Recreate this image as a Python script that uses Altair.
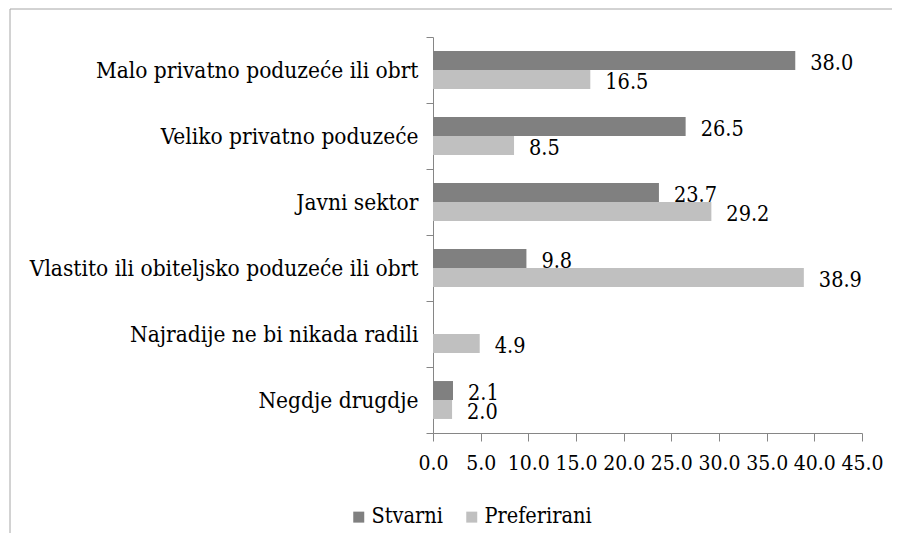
import altair as alt
import pandas as pd

categories = [
    "Malo privatno poduzeće ili obrt",
    "Veliko privatno poduzeće",
    "Javni sektor",
    "Vlastito ili obiteljsko poduzeće ili obrt",
    "Najradije ne bi nikada radili",
    "Negdje drugdje",
]
stvarni = [38.0, 26.5, 23.7, 9.8, None, 2.1]
preferirani = [16.5, 8.5, 29.2, 38.9, 4.9, 2.0]
series_names = ["Stvarni", "Preferirani"]
series_colors = ["#808080", "#C0C0C0"]
x_ticks = [0, 5, 10, 15, 20, 25, 30, 35, 40, 45]

rows = []
for c, s, p in zip(categories, stvarni, preferirani):
    rows.append({"cat": c, "series": "Stvarni", "value": s})
    rows.append({"cat": c, "series": "Preferirani", "value": p})
df = pd.DataFrame(rows)

FONT = "DejaVu Serif Condensed"

y_enc = alt.Y("cat:N", sort=categories,
              scale=alt.Scale(paddingInner=0, paddingOuter=0),
              axis=alt.Axis(title=None, tickBand="extent", tickSize=7, labelPadding=8,
                            labelFontSize=22.5, labelFont=FONT, labelColor="black",
                            domainColor="#868686", tickColor="#868686", labelLimit=500))
yoff_enc = alt.YOffset("series:N", sort=series_names,
                       scale=alt.Scale(paddingInner=0, paddingOuter=0.74))
x_enc = alt.X("value:Q", scale=alt.Scale(domain=[0, 45], nice=False),
              axis=alt.Axis(title=None, values=x_ticks, format=".1f", tickSize=8,
                            labelPadding=11, labelFontSize=21, labelFont=FONT,
                            labelColor="black", domainColor="#868686", tickColor="#868686",
                            grid=False, labelFlush=False, labelOverlap=False))
color_enc = alt.Color("series:N", sort=series_names,
                      scale=alt.Scale(domain=series_names, range=series_colors),
                      legend=alt.Legend(title=None, orient="none", direction="horizontal",
                                        legendX=-85, legendY=469, padding=0,
                                        symbolType="square", symbolSize=121,
                                        symbolStrokeWidth=0, labelFontSize=21.5,
                                        labelFont=FONT, labelColor="black",
                                        columnPadding=18, labelOffset=2, labelLimit=300))

bars = alt.Chart(df).mark_bar().encode(y=y_enc, yOffset=yoff_enc, x=x_enc, color=color_enc)

labels = alt.Chart(df).transform_filter("isValid(datum.value)").mark_text(
    align="left", baseline="alphabetic", dx=15, dy=9.5, fontSize=21.5, font=FONT, color="black"
).encode(y=alt.Y("cat:N", sort=categories), yOffset=alt.YOffset("series:N", sort=series_names),
         x=alt.X("value:Q"), text=alt.Text("value:Q", format=".1f"))

frame_data = pd.DataFrame({"a": [1]})
frame_left = alt.Chart(frame_data).mark_rule(stroke="#a6a6a6", strokeWidth=1).encode(
    x=alt.value(-423), y=alt.value(-28), y2=alt.value(700))
frame_top = alt.Chart(frame_data).mark_rule(stroke="#a6a6a6", strokeWidth=1).encode(
    x=alt.value(-423), x2=alt.value(700), y=alt.value(-28))

chart = alt.layer(frame_left, frame_top, bars, labels).properties(
    width=429, height=396,
    autosize=alt.AutoSizeParams(type="none"),
    padding={"left": 425, "top": 29, "right": 30, "bottom": 100},
).configure_view(stroke=None)

chart.save("out.html", embed_options={"renderer": "svg", "actions": False})
